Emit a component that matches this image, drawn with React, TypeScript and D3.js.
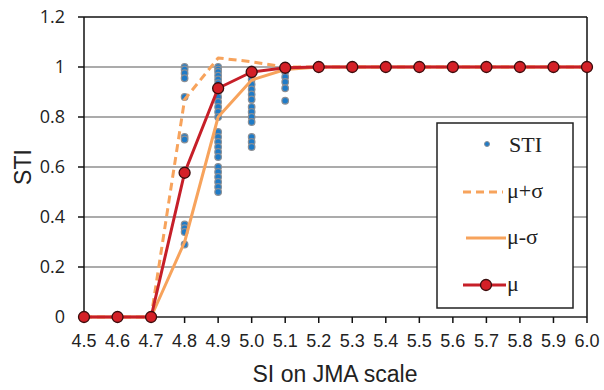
import React from "react";
import * as d3 from "d3";

// SI on JMA scale
const siValues = [4.5, 4.6, 4.7, 4.8, 4.9, 5.0, 5.1, 5.2, 5.3, 5.4, 5.5, 5.6, 5.7, 5.8, 5.9, 6.0];
const mu = [0, 0, 0, 0.577, 0.915, 0.98, 0.997, 1, 1, 1, 1, 1, 1, 1, 1, 1];
const muPlusSigma = [0, 0, 0, 0.87, 1.036, 1.021, 1.0, 1, 1, 1, 1, 1, 1, 1, 1, 1];
const muMinusSigma = [0, 0, 0, 0.3, 0.8, 0.948, 0.99, 1, 1, 1, 1, 1, 1, 1, 1, 1];

// individual STI samples per SI level
const stiAt48 = [1.0, 0.99, 0.975, 0.955, 0.88, 0.72, 0.71, 0.37, 0.355, 0.34, 0.29];
const stiAt49 = [1.0, 0.99, 0.98, 0.965, 0.95, 0.935, 0.92, 0.9, 0.88, 0.86, 0.84, 0.82, 0.8,
  0.74, 0.72, 0.7, 0.68, 0.66, 0.64, 0.6, 0.58, 0.56, 0.54, 0.52, 0.5];
const stiAt50 = [0.99, 0.97, 0.95, 0.93, 0.91, 0.89, 0.87, 0.84, 0.82, 0.8, 0.78, 0.72, 0.7, 0.68];
const stiAt51 = [1.0, 0.98, 0.96, 0.94, 0.915, 0.865];

const yTicks = [0, 0.2, 0.4, 0.6, 0.8, 1, 1.2];

const W = 604;
const H = 390;

export default function App() {
  const x = d3.scaleLinear().domain([4.5, 6.0]).range([84, 587]);
  const y = d3.scaleLinear().domain([0, 1.2]).range([317, 17]);

  const pts = (vals: number[]) => siValues.map((s, i) => [x(s), y(vals[i])] as [number, number]);
  const line = d3.line();

  const scatter: { s: number; v: number }[] = [
    ...stiAt48.map((v) => ({ s: 4.8, v })),
    ...stiAt49.map((v) => ({ s: 4.9, v })),
    ...stiAt50.map((v) => ({ s: 5.0, v })),
    ...stiAt51.map((v) => ({ s: 5.1, v })),
    ...siValues.filter((s) => s >= 5.2).map((s) => ({ s, v: 1 })),
  ];

  const orange = "#f7a35c";
  const red = "#c61f28";

  return (
    <div style={{ position: "fixed", left: 0, top: 0 }}>
      <svg width={W} height={H} style={{ display: "block", background: "#fff" }}>
        {/* grid */}
        {yTicks.filter((t) => t > 0 && t < 1.2).map((t) => (
          <line key={t} x1={x(4.5)} x2={x(6.0)} y1={y(t)} y2={y(t)} stroke="#8f8f8f" strokeWidth={1.5} />
        ))}
        {/* frame */}
        <line x1={x(4.5)} x2={x(6.0)} y1={y(1.2)} y2={y(1.2)} stroke="#111" strokeWidth={1.5} />
        <line x1={x(6.0)} x2={x(6.0)} y1={y(1.2)} y2={y(0)} stroke="#111" strokeWidth={1.5} />
        <line x1={x(4.5)} x2={x(6.0)} y1={y(0)} y2={y(0)} stroke="#222" strokeWidth={1.5} />
        <line x1={x(4.5)} x2={x(4.5)} y1={y(1.2)} y2={y(0)} stroke="#111" strokeWidth={1.5} />

        {/* y ticks */}
        {yTicks.map((t) => (
          <g key={t}>
            <line x1={x(4.5) - 6} x2={x(4.5)} y1={y(t)} y2={y(t)} stroke="#111" strokeWidth={1.5} />
            <text x={65} y={y(t)} dy="0.35em" textAnchor="end" fontFamily="'Open Sans', sans-serif" fontSize={18} fill="#222">
              {String(t)}
            </text>
          </g>
        ))}
        {/* x ticks */}
        {siValues.map((s) => (
          <g key={s}>
            <line x1={x(s)} x2={x(s)} y1={y(0)} y2={y(0) + 6} stroke="#111" strokeWidth={1.5} />
            <text x={x(s)} y={347} textAnchor="middle" fontFamily="'Liberation Sans', Arial, sans-serif" fontSize={18} fill="#222">
              {s.toFixed(1)}
            </text>
          </g>
        ))}

        {/* axis titles */}
        <text x={335} y={382} textAnchor="middle" fontFamily="'Liberation Sans', Arial, sans-serif" fontSize={23} fill="#222">
          SI on JMA scale
        </text>
        <text transform="translate(31,167) rotate(-90)" textAnchor="middle" fontFamily="'Liberation Sans', Arial, sans-serif" fontSize={23} fill="#222">
          STI
        </text>

        {/* STI samples */}
        {scatter.map((d, i) => (
          <circle key={i} cx={x(d.s)} cy={y(d.v)} r={3.3} fill="#1f7bc7" stroke="#8a8f96" strokeWidth={1.2} />
        ))}

        {/* mu +/- sigma */}
        <path d={line(pts(muPlusSigma)) || ""} fill="none" stroke={orange} strokeWidth={3} strokeDasharray="8,5" strokeLinejoin="round" />
        <path d={line(pts(muMinusSigma)) || ""} fill="none" stroke={orange} strokeWidth={3} strokeLinejoin="round" />

        {/* mean */}
        <path d={line(pts(mu)) || ""} fill="none" stroke={red} strokeWidth={3} strokeLinejoin="round" />
        {siValues.map((s, i) => (
          <circle key={s} cx={x(s)} cy={y(mu[i])} r={5.5} fill="#d42027" stroke="#3a0d0d" strokeWidth={1.3} />
        ))}

        {/* legend */}
        <rect x={437} y={123} width={136} height={185} fill="#fff" stroke="#222" strokeWidth={1.5} />
        <g fontFamily="'Liberation Serif', 'Times New Roman', serif" fontSize={22} fill="#222">
          <circle cx={487} cy={144} r={2.5} fill="#1f7bc7" stroke="#8a8f96" strokeWidth={1} />
          <text x={509} y={152}>STI</text>

          <line x1={463} x2={503} y1={192} y2={192} stroke={orange} strokeWidth={3} strokeDasharray="8,5" />
          <text x={507} y={198}>μ+σ</text>

          <line x1={466} x2={506} y1={238} y2={238} stroke={orange} strokeWidth={3} />
          <text x={507} y={244}>μ-σ</text>

          <line x1={463} x2={506} y1={285} y2={285} stroke={red} strokeWidth={3} />
          <circle cx={486} cy={285} r={5.5} fill="#d42027" stroke="#3a0d0d" strokeWidth={1.3} />
          <text x={507} y={291}>μ</text>
        </g>
      </svg>
    </div>
  );
}
